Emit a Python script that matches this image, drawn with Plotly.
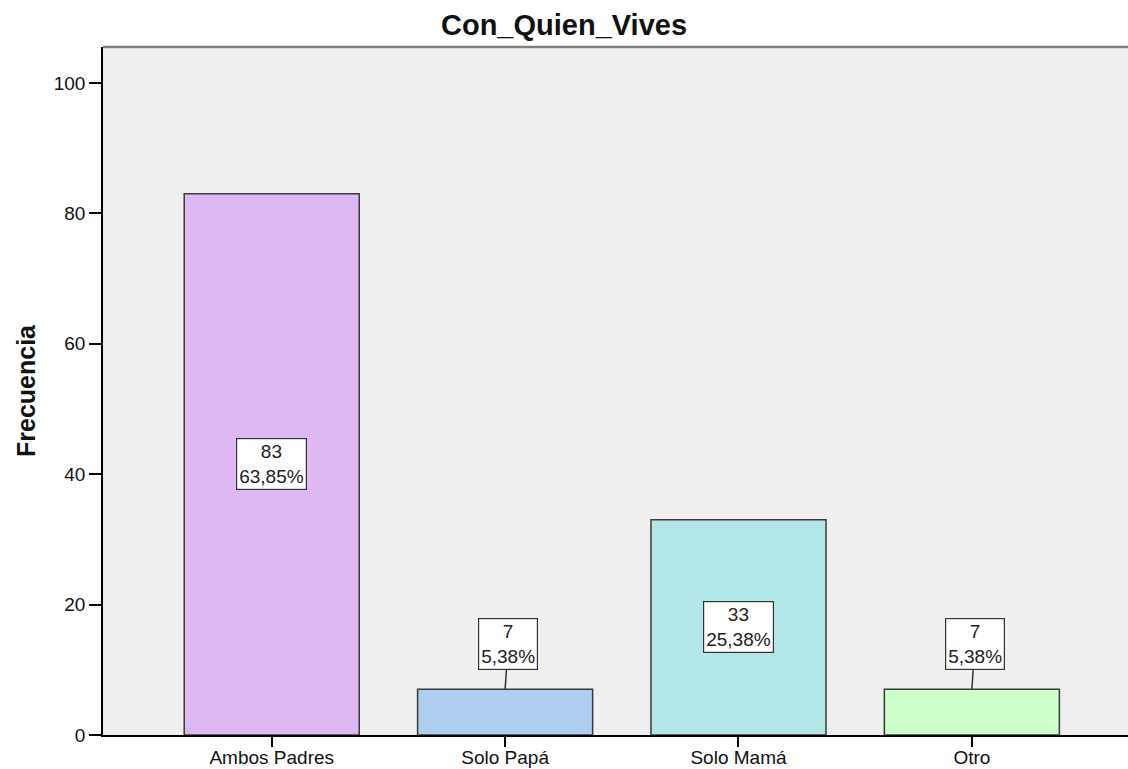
import plotly.graph_objects as go

categorias = ["Ambos Padres", "Solo Papá", "Solo Mamá", "Otro"]
frecuencias = [83, 7, 33, 7]
porcentajes = ["63,85%", "5,38%", "25,38%", "5,38%"]
colores = ["#DDB8F2", "#AECFEF", "#B3E6E6", "#CCFFCC"]
y_ticks = [0, 20, 40, 60, 80, 100]

W, H = 1128, 769

fig = go.Figure()

fig.add_trace(go.Bar(
    x=categorias,
    y=frecuencias,
    width=0.75,
    marker=dict(color=colores, line=dict(color="#3a3a3a", width=1.5)),
    hoverinfo="skip",
))

# etiquetas: dentro de la barra si cabe, si no encima con linea guia
for cat, v, p in zip(categorias, frecuencias, porcentajes):
    texto = f"{v}<br>{p}"
    estilo = dict(bgcolor="white", bordercolor="#333333", borderwidth=1.2,
                  borderpad=2, font=dict(size=19, color="#222222"))
    if v >= 15:
        fig.add_annotation(x=cat, y=v / 2, text=texto, showarrow=False, **estilo)
    else:
        fig.add_annotation(x=cat, y=v, text=texto, showarrow=True,
                           arrowhead=0, arrowwidth=1.5, arrowcolor="#333333",
                           ax=3, ay=-45, standoff=0, **estilo)

# borde superior gris del area de trazado
fig.add_shape(type="line", xref="paper", yref="paper", x0=0, x1=1, y0=1, y1=1,
              line=dict(color="#7f7f7f", width=2.5))

fig.update_layout(
    width=W,
    height=H,
    margin=dict(l=103, r=0, t=47, b=34),
    paper_bgcolor="white",
    plot_bgcolor="#EFEFEF",
    font=dict(family="Liberation Sans, Arial, sans-serif", color="#111111"),
    title=dict(text="<b>Con_Quien_Vives</b>", x=0.5, xref="container",
               y=1 - 25 / H, yref="container", yanchor="middle",
               font=dict(size=29, color="#111111")),
    showlegend=False,
)

fig.update_xaxes(
    range=[-0.723, 3.669],
    automargin=False,
    showline=True, linecolor="black", linewidth=1.5,
    ticks="outside", ticklen=10, tickwidth=1.5, tickcolor="black",
    tickfont=dict(size=19), ticklabelstandoff=-6,
    showgrid=False,
)

fig.update_yaxes(
    range=[0, 105.5],
    tickvals=y_ticks,
    automargin=False,
    showline=True, linecolor="black", linewidth=1.5,
    ticks="outside", ticklen=12, tickwidth=1.5, tickcolor="black",
    tickfont=dict(size=19),
    showgrid=False, zeroline=False,
    title=dict(text="<b>Frecuencia</b>", font=dict(size=25), standoff=11),
)

# sin margen en el body para que la figura ocupe toda la ventana
fig.write_html("out.html", config={"displayModeBar": False},
               post_script="document.body.style.margin='0';")
